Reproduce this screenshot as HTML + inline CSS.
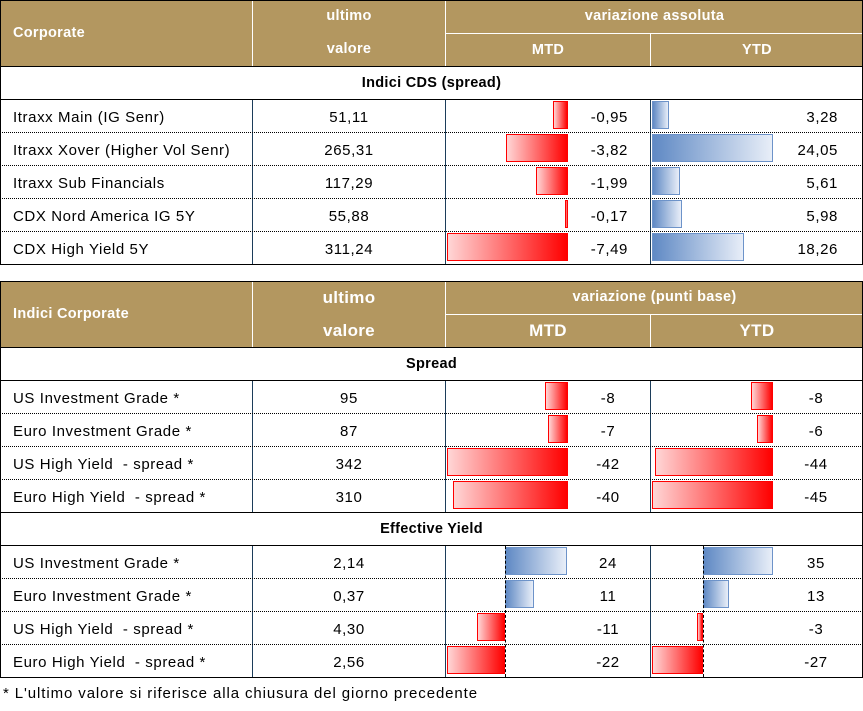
<!DOCTYPE html>
<html><head><meta charset="utf-8"><style>
body{margin:0;width:863px;height:711px;background:#fff;position:relative;overflow:hidden;font-family:"Liberation Sans",sans-serif;}
div{position:absolute;box-sizing:border-box;}
.g{background:#B39760;}
.h{color:#fff;font-weight:bold;font-size:14.5px;text-align:center;letter-spacing:0.3px;}
.hl{color:#fff;font-weight:bold;font-size:14.5px;letter-spacing:0.3px;}
.t{font-size:15px;color:#000;height:33px;line-height:35px;white-space:nowrap;letter-spacing:0.6px;}
.c{text-align:center;}
.rr{text-align:right;}
.sec{font-weight:bold;font-size:14.5px;text-align:center;height:32px;line-height:33px;letter-spacing:0.3px;}
.vl{width:1px;background:#1c3d5a;}
.wl{background:#fff;}
.bk{background:#000;}
.dot{height:0;border-top:1px dotted #000;}
.rb{border:1px solid #f00;background:linear-gradient(to right,#ffd6d6,#ff0000);height:28px;}
.bb{border:1px solid #6d93c9;background:linear-gradient(to right,#5f89c4,#e8eef8);height:28px;}
.dz{width:0;border-left:1px dashed #000;}
</style></head><body>
<!-- TABLE 1 -->
<div class="g" style="left:0;top:0;width:863px;height:67px;"></div>
<div class="wl" style="left:252px;top:0;width:1px;height:66px;"></div>
<div class="wl" style="left:445px;top:0;width:1px;height:66px;"></div>
<div class="wl" style="left:445px;top:33px;width:418px;height:1px;"></div>
<div class="wl" style="left:650px;top:33px;width:1px;height:33px;"></div>
<div class="hl" style="left:13px;top:0;height:66px;line-height:66px;">Corporate</div>
<div class="h" style="left:253px;top:0;width:192px;height:33px;line-height:33px;">ultimo</div>
<div class="h" style="left:253px;top:33px;width:192px;height:33px;line-height:33px;">valore</div>
<div class="h" style="left:446px;top:0;width:417px;height:33px;line-height:33px;">variazione assoluta</div>
<div class="h" style="left:446px;top:34px;width:204px;height:32px;line-height:32px;">MTD</div>
<div class="h" style="left:651px;top:34px;width:212px;height:32px;line-height:32px;">YTD</div>
<div class="sec" style="left:0;top:67px;width:863px;">Indici CDS (spread)</div>
<div class="bk" style="left:0;top:66px;width:863px;height:1px;"></div>
<div class="bk" style="left:0;top:99px;width:863px;height:1px;"></div>
<div class="vl" style="left:252px;top:100px;height:164px;"></div>
<div class="vl" style="left:445px;top:100px;height:164px;"></div>
<div class="vl" style="left:650px;top:100px;height:164px;"></div>
<div class="dot" style="left:0;top:132px;width:863px;"></div>
<div class="dot" style="left:0;top:165px;width:863px;"></div>
<div class="dot" style="left:0;top:198px;width:863px;"></div>
<div class="dot" style="left:0;top:231px;width:863px;"></div>
<div style="left:0;top:0;width:863px;height:265px;border:1px solid #000;"></div>

<div class="rb" style="left:553px;top:101px;width:15px;"></div>
<div class="rb" style="left:506px;top:134px;width:62px;"></div>
<div class="rb" style="left:536px;top:167px;width:32px;"></div>
<div class="rb" style="left:565px;top:200px;width:3px;"></div>
<div class="rb" style="left:447px;top:233px;width:121px;"></div>
<div class="bb" style="left:652px;top:101px;width:17px;"></div>
<div class="bb" style="left:652px;top:134px;width:121px;"></div>
<div class="bb" style="left:652px;top:167px;width:28px;"></div>
<div class="bb" style="left:652px;top:200px;width:30px;"></div>
<div class="bb" style="left:652px;top:233px;width:92px;"></div>

<div class="t" style="left:13px;top:100px;">Itraxx Main (IG Senr)</div>
<div class="t" style="left:13px;top:133px;">Itraxx Xover (Higher Vol Senr)</div>
<div class="t" style="left:13px;top:166px;">Itraxx Sub Financials</div>
<div class="t" style="left:13px;top:199px;">CDX Nord America IG 5Y</div>
<div class="t" style="left:13px;top:232px;">CDX High Yield 5Y</div>
<div class="t c" style="left:253px;top:100px;width:192px;">51,11</div>
<div class="t c" style="left:253px;top:133px;width:192px;">265,31</div>
<div class="t c" style="left:253px;top:166px;width:192px;">117,29</div>
<div class="t c" style="left:253px;top:199px;width:192px;">55,88</div>
<div class="t c" style="left:253px;top:232px;width:192px;">311,24</div>
<div class="t rr" style="left:560px;top:100px;width:68px;">-0,95</div>
<div class="t rr" style="left:560px;top:133px;width:68px;">-3,82</div>
<div class="t rr" style="left:560px;top:166px;width:68px;">-1,99</div>
<div class="t rr" style="left:560px;top:199px;width:68px;">-0,17</div>
<div class="t rr" style="left:560px;top:232px;width:68px;">-7,49</div>
<div class="t rr" style="left:770px;top:100px;width:68px;">3,28</div>
<div class="t rr" style="left:770px;top:133px;width:68px;">24,05</div>
<div class="t rr" style="left:770px;top:166px;width:68px;">5,61</div>
<div class="t rr" style="left:770px;top:199px;width:68px;">5,98</div>
<div class="t rr" style="left:770px;top:232px;width:68px;">18,26</div>

<!-- TABLE 2 -->
<div class="g" style="left:0;top:281px;width:863px;height:67px;"></div>
<div class="wl" style="left:252px;top:281px;width:1px;height:66px;"></div>
<div class="wl" style="left:445px;top:281px;width:1px;height:66px;"></div>
<div class="wl" style="left:445px;top:314px;width:418px;height:1px;"></div>
<div class="wl" style="left:650px;top:314px;width:1px;height:33px;"></div>
<div class="hl" style="left:13px;top:281px;height:66px;line-height:66px;">Indici Corporate</div>
<div class="h" style="left:253px;top:281px;width:192px;height:33px;line-height:33px;font-size:17px;">ultimo</div>
<div class="h" style="left:253px;top:314px;width:192px;height:33px;line-height:33px;font-size:17px;">valore</div>
<div class="h" style="left:446px;top:281px;width:417px;height:33px;line-height:33px;">variazione (punti base)</div>
<div class="h" style="left:446px;top:315px;width:204px;height:32px;line-height:32px;font-size:17px;">MTD</div>
<div class="h" style="left:651px;top:315px;width:212px;height:32px;line-height:32px;font-size:17px;">YTD</div>
<div class="bk" style="left:0;top:347px;width:863px;height:1px;"></div>
<div class="sec" style="left:0;top:348px;width:863px;">Spread</div>
<div class="bk" style="left:0;top:380px;width:863px;height:1px;"></div>
<div class="bk" style="left:0;top:512px;width:863px;height:1px;"></div>
<div class="sec" style="left:0;top:513px;width:863px;">Effective Yield</div>
<div class="bk" style="left:0;top:545px;width:863px;height:1px;"></div>
<div class="vl" style="left:252px;top:381px;height:131px;"></div>
<div class="vl" style="left:445px;top:381px;height:131px;"></div>
<div class="vl" style="left:650px;top:381px;height:131px;"></div>
<div class="vl" style="left:252px;top:546px;height:131px;"></div>
<div class="vl" style="left:445px;top:546px;height:131px;"></div>
<div class="vl" style="left:650px;top:546px;height:131px;"></div>
<div class="dot" style="left:0;top:413px;width:863px;"></div>
<div class="dot" style="left:0;top:446px;width:863px;"></div>
<div class="dot" style="left:0;top:479px;width:863px;"></div>
<div class="dot" style="left:0;top:578px;width:863px;"></div>
<div class="dot" style="left:0;top:611px;width:863px;"></div>
<div class="dot" style="left:0;top:644px;width:863px;"></div>
<div style="left:0;top:281px;width:863px;height:397px;border:1px solid #000;"></div>

<div class="rb" style="left:545px;top:382px;width:23px;"></div>
<div class="rb" style="left:548px;top:415px;width:20px;"></div>
<div class="rb" style="left:447px;top:448px;width:121px;"></div>
<div class="rb" style="left:453px;top:481px;width:115px;"></div>
<div class="rb" style="left:751px;top:382px;width:22px;"></div>
<div class="rb" style="left:757px;top:415px;width:16px;"></div>
<div class="rb" style="left:655px;top:448px;width:118px;"></div>
<div class="rb" style="left:652px;top:481px;width:121px;"></div>

<div class="bb" style="left:505px;top:547px;width:62px;"></div>
<div class="bb" style="left:505px;top:580px;width:29px;"></div>
<div class="rb" style="left:477px;top:613px;width:28px;"></div>
<div class="rb" style="left:447px;top:646px;width:58px;"></div>
<div class="bb" style="left:703px;top:547px;width:70px;"></div>
<div class="bb" style="left:703px;top:580px;width:26px;"></div>
<div class="rb" style="left:697px;top:613px;width:6px;"></div>
<div class="rb" style="left:652px;top:646px;width:51px;"></div>
<div class="dz" style="left:505px;top:546px;height:131px;"></div>
<div class="dz" style="left:703px;top:546px;height:131px;"></div>

<div class="t" style="left:13px;top:381px;">US Investment Grade *</div>
<div class="t" style="left:13px;top:414px;">Euro Investment Grade *</div>
<div class="t" style="left:13px;top:447px;">US High Yield &nbsp;- spread *</div>
<div class="t" style="left:13px;top:480px;">Euro High Yield &nbsp;- spread *</div>
<div class="t" style="left:13px;top:546px;">US Investment Grade *</div>
<div class="t" style="left:13px;top:579px;">Euro Investment Grade *</div>
<div class="t" style="left:13px;top:612px;">US High Yield &nbsp;- spread *</div>
<div class="t" style="left:13px;top:645px;">Euro High Yield &nbsp;- spread *</div>
<div class="t c" style="left:253px;top:381px;width:192px;">95</div>
<div class="t c" style="left:253px;top:414px;width:192px;">87</div>
<div class="t c" style="left:253px;top:447px;width:192px;">342</div>
<div class="t c" style="left:253px;top:480px;width:192px;">310</div>
<div class="t c" style="left:253px;top:546px;width:192px;">2,14</div>
<div class="t c" style="left:253px;top:579px;width:192px;">0,37</div>
<div class="t c" style="left:253px;top:612px;width:192px;">4,30</div>
<div class="t c" style="left:253px;top:645px;width:192px;">2,56</div>
<div class="t c" style="left:578px;top:381px;width:60px;">-8</div>
<div class="t c" style="left:578px;top:414px;width:60px;">-7</div>
<div class="t c" style="left:578px;top:447px;width:60px;">-42</div>
<div class="t c" style="left:578px;top:480px;width:60px;">-40</div>
<div class="t c" style="left:578px;top:546px;width:60px;">24</div>
<div class="t c" style="left:578px;top:579px;width:60px;">11</div>
<div class="t c" style="left:578px;top:612px;width:60px;">-11</div>
<div class="t c" style="left:578px;top:645px;width:60px;">-22</div>
<div class="t c" style="left:786px;top:381px;width:60px;">-8</div>
<div class="t c" style="left:786px;top:414px;width:60px;">-6</div>
<div class="t c" style="left:786px;top:447px;width:60px;">-44</div>
<div class="t c" style="left:786px;top:480px;width:60px;">-45</div>
<div class="t c" style="left:786px;top:546px;width:60px;">35</div>
<div class="t c" style="left:786px;top:579px;width:60px;">13</div>
<div class="t c" style="left:786px;top:612px;width:60px;">-3</div>
<div class="t c" style="left:786px;top:645px;width:60px;">-27</div>

<div class="t" style="left:3px;top:676px;letter-spacing:0.9px;">* L'ultimo valore si riferisce alla chiusura del giorno precedente</div>
</body></html>
